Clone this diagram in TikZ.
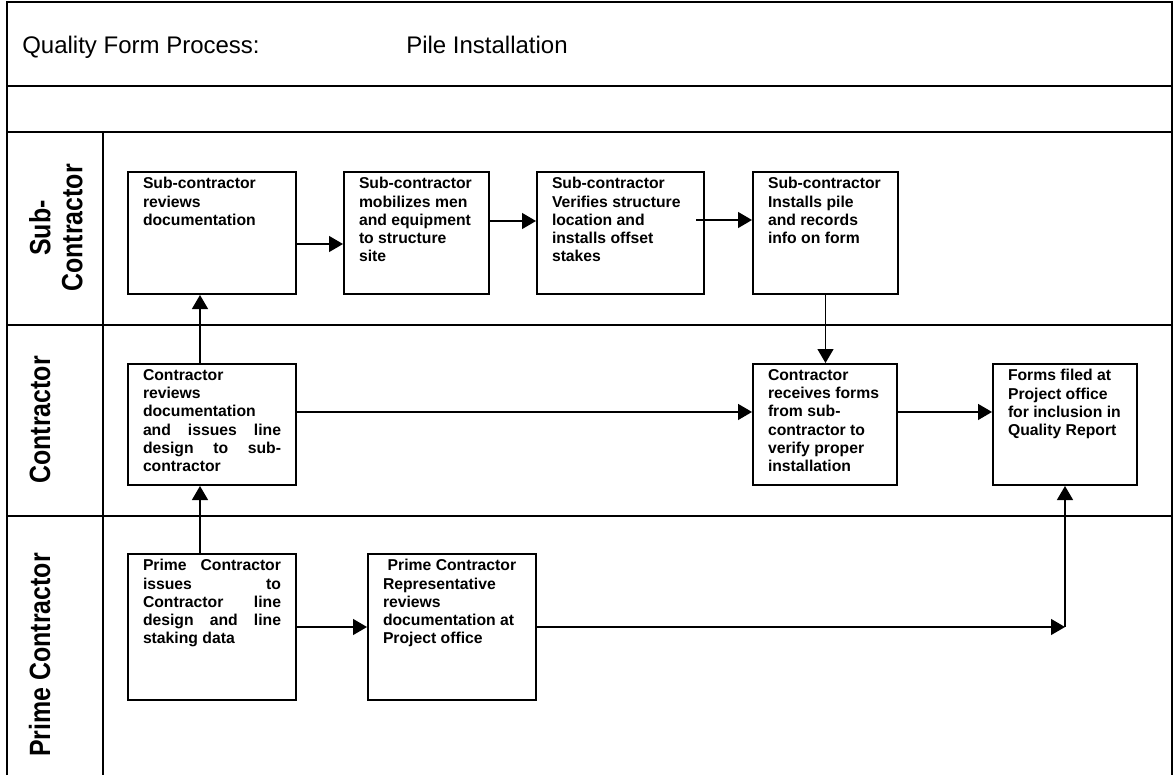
\documentclass[tikz,border=0pt]{standalone}
\usepackage{fontspec}
\setmainfont{Liberation Sans}
\usepackage{graphicx}
\usepackage{tikz}
\usetikzlibrary{arrows.meta}

% box text: fixed size, top aligned, 15px left pad
\newcommand{\steptext}[3]{\parbox[b][#2][t]{#1}{\leftskip=11.25pt\rightskip=5pt plus 1fil\vspace*{4pt}#3}}
% justified line inside the wide boxes
\newcommand{\just}[1]{\makebox[103.5pt][s]{#1}}
\newcommand{\narrow}[1]{\scalebox{0.85}[1]{#1}}

\tikzset{
  frame/.style={line width=1.5pt},
  stepbox/.style={draw, line width=1.5pt, anchor=north west, inner sep=0pt,
    font=\fontsize{11.8}{13.7}\selectfont\bfseries},
  lanelabel/.style={rotate=90, font=\fontsize{22}{24}\selectfont\bfseries, align=center},
  title/.style={anchor=base west, inner sep=0pt, font=\fontsize{18}{21}\selectfont},
  flow/.style={line width=1pt, -{Triangle[length=10.5pt, width=12pt]}},
}

\begin{document}
\begin{tikzpicture}[x=0.75pt, y=-0.75pt]
  \useasboundingbox (0,0) rectangle (1175,775);

  % table frame and swimlanes
  \draw[frame] (7,775) -- (7,2) -- (1172,2) -- (1172,775);
  \draw[frame] (7,86) -- (1172,86);
  \draw[frame] (7,132) -- (1172,132);
  \draw[frame] (7,325) -- (1172,325);
  \draw[frame] (7,516) -- (1172,516);
  \draw[frame] (103,132) -- (103,775);

  % heading
  \node[title] (head) at (22,53) {Quality Form Process:};
  \node[title] (job) at (406,53) {Pile Installation};

  % lane names
  \node[lanelabel] (sublane) at (56,228) {\narrow{Sub-}\\\narrow{Contractor}};
  \node[lanelabel, anchor=base] (conlane) at (50,420) {\narrow{Contractor}};
  \node[lanelabel, anchor=base] (primelane) at (50,655) {\narrow{Prime Contractor}};

  % sub-contractor lane
  \node[stepbox] (b1) at (127,171) {\steptext{126pt}{91.5pt}{Sub-contractor\\ reviews\\ documentation}};
  \node[stepbox] (b2) at (343,171) {\steptext{108.75pt}{91.5pt}{Sub-contractor\\ mobilizes men\\ and equipment\\ to structure\\ site}};
  \node[stepbox] (b3) at (536,171) {\steptext{125.25pt}{91.5pt}{Sub-contractor\\ Verifies structure\\ location and\\ installs offset\\ stakes}};
  \node[stepbox] (b4) at (752,171) {\steptext{108.75pt}{91.5pt}{Sub-contractor\\ Installs pile\\ and records\\ info on form}};

  % contractor lane
  \node[stepbox] (c1) at (127,363) {\steptext{126pt}{90.75pt}{Contractor\\ reviews\\ documentation\\ \just{and issues line}\\ \just{design to sub-}\\ contractor}};
  \node[stepbox] (c2) at (752,363) {\steptext{108pt}{90.75pt}{Contractor\\ receives forms\\ from sub-\\ contractor to\\ verify proper\\ installation}};
  \node[stepbox] (c3) at (992,363) {\steptext{108pt}{90.75pt}{Forms filed at\\ Project office\\ for inclusion in\\ Quality Report}};

  % prime contractor lane
  \node[stepbox] (p1) at (127,553) {\steptext{126pt}{109.5pt}{\just{Prime Contractor}\\ \just{issues to}\\ \just{Contractor line}\\ \just{design and line}\\ staking data}};
  \node[stepbox] (p2) at (367,553) {\steptext{126pt}{109.5pt}{\hspace*{3.5pt}Prime Contractor\\ Representative\\ reviews\\ documentation at\\ Project office}};

  % flow
  \draw[flow] ([yshift=-8.25pt]b1.east) -- ([yshift=-8.25pt]b2.west);
  \draw[flow] ([yshift=9pt]b2.east) -- ([yshift=9pt]b3.west);
  \draw[flow] ([xshift=-6.75pt,yshift=9.75pt]b3.east) -- ([yshift=9.75pt]b4.west);
  \draw[flow] (b4.south) -- (b4.south |- c2.north);
  \draw[flow] ([xshift=-9pt]c1.north) -- ([xshift=-9pt]b1.south);
  \draw[flow] ([xshift=-9pt]p1.north) -- ([xshift=-9pt]c1.south);
  \draw[flow] ([yshift=9.4pt]c1.east) -- ([yshift=9.4pt]c2.west);
  \draw[flow] ([yshift=9.4pt]c2.east) -- ([yshift=9.4pt]c3.west);
  \draw[flow] (p1.east) -- (p2.west);
  \coordinate (turn) at (c3.south |- p2.east);
  \draw[flow] (p2.east) -- (turn);
  \draw[flow] (turn) -- (c3.south);
\end{tikzpicture}
\end{document}
